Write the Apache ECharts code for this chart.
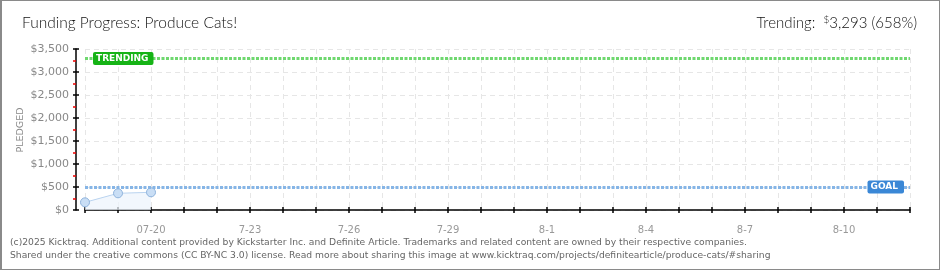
<!DOCTYPE html>
<html><head><meta charset="utf-8">
<script src="https://cdn.jsdelivr.net/npm/echarts@6/dist/echarts.min.js"></script>
<style>
html,body{margin:0;padding:0;background:#fff;}
#wrap{position:relative;width:940px;height:270px;}
#chart{position:absolute;left:0;top:0;width:940px;height:270px;}
#frame{position:absolute;left:0;top:0;width:937px;height:268px;border:1px solid #8a8a8a;border-left:2px solid #8a8a8a;pointer-events:none;}
</style></head>
<body><div id="wrap"><div id="chart"></div><div id="frame"></div></div>
<script>
const categories = ['07-18','07-19','07-20','7-21','7-22','7-23','7-24','7-25','7-26','7-27','7-28','7-29','7-30','7-31','8-1','8-2','8-3','8-4','8-5','8-6','8-7','8-8','8-9','8-10','8-11','8-12'];
const pledged = [167, 363, 385];
const goalValue = 500;
const trendingValue = 3293;
const yMax = 3500;
const yInterval = 500;

const chart = echarts.init(document.getElementById('chart'));
const axisFont = 'DejaVu Sans';
chart.setOption({
  animation: false,
  title: [
    {text: 'Funding Progress: Produce Cats!', left: 17, top: 10,
     textStyle: {fontFamily: 'Lato', fontWeight: 300, fontSize: 15.5, color: '#111'}},
    {text: '{a|Trending:  }{s|$}{b|3,293 (658%)}', right: 18, top: 10,
     textStyle: {rich: {
       a: {fontFamily: 'Lato', fontWeight: 300, fontSize: 15, color: '#111'},
       s: {fontFamily: 'Lato', fontWeight: 300, fontSize: 10, color: '#111', verticalAlign: 'top', padding: [0,0,6,0]},
       b: {fontFamily: 'Lato', fontWeight: 300, fontSize: 15, color: '#111'}
     }}}
  ],
  graphic: [
    {type: 'text', x: 21, y: 130, rotation: Math.PI / 2,
     style: {text: 'PLEDGED', font: '9.5px "DejaVu Sans"', fill: '#888', align: 'center', verticalAlign: 'middle'}},
    {type: 'text', left: 10, top: 238, style: {text: '(c)2025 Kicktraq. Additional content provided by Kickstarter Inc. and Definite Article. Trademarks and related content are owned by their respective companies.', font: '9.2px "DejaVu Sans"', fill: '#666'}},
    {type: 'text', left: 10, top: 251, style: {text: 'Shared under the creative commons (CC BY-NC 3.0) license. Read more about sharing this image at www.kicktraq.com/projects/definitearticle/produce-cats/#sharing', font: '9.2px "DejaVu Sans"', fill: '#666'}}
  ],
  grid: {left: 85, right: 30, top: 49, bottom: 60},
  xAxis: [
    {type: 'category', data: categories, boundaryGap: false, offset: 10,
     axisLine: {lineStyle: {color: '#000', width: 1.5}},
     axisTick: {show: true, interval: 0, length: 3, lineStyle: {color: '#000', width: 1.5}},
     axisLabel: {interval: (i) => i % 3 === 2, color: '#999', fontFamily: axisFont, fontSize: 10, margin: 5},
     splitLine: {show: true, interval: 0, lineStyle: {color: '#e6e6e6', type: [5,4]}}},
    {type: 'category', data: categories, boundaryGap: false, offset: 10, position: 'bottom',
     axisLine: {show: false},
     axisTick: {show: true, inside: true, interval: 0, length: 3, lineStyle: {color: '#000', width: 1.5}},
     axisLabel: {show: false}, splitLine: {show: false}}
  ],
  yAxis: [
    {type: 'value', min: 0, max: yMax, interval: yInterval, offset: 9,
     axisLine: {show: true, lineStyle: {color: '#000', width: 1.5}},
     axisTick: {show: true, length: 3, lineStyle: {color: '#000', width: 1.5}},
     minorTick: {show: true, splitNumber: 2, length: 3, lineStyle: {color: '#e00', width: 1.5}},
     axisLabel: {color: '#888', fontFamily: axisFont, fontSize: 11, margin: 7,
       formatter: (v) => '$' + v.toLocaleString('en-US')},
     splitLine: {show: true, lineStyle: {color: '#e6e6e6', type: [5,4]}}},
    {type: 'value', min: 0, max: yMax, interval: yInterval, offset: 9, position: 'left',
     axisLine: {show: false},
     axisTick: {show: true, inside: true, length: 3, lineStyle: {color: '#000', width: 1.5}},
     axisLabel: {show: false}, splitLine: {show: false}}
  ],
  series: [{
    type: 'line', data: pledged, xAxisIndex: 0, yAxisIndex: 0,
    symbol: 'circle', symbolSize: 9,
    itemStyle: {color: '#c9def5', borderColor: '#8fb3dc', borderWidth: 1},
    lineStyle: {color: '#b9d3ef', width: 1},
    areaStyle: {color: '#edf4fc'},
    markLine: {
      silent: true, symbol: ['none','none'],
      data: [
        {yAxis: goalValue,
         lineStyle: {color: '#86b5e6', width: 3, type: [3,1.5]},
         label: {show: true, formatter: 'GOAL', position: 'insideEnd', distance: 6,
           color: '#fff', backgroundColor: '#3a87d6', padding: [2,6,2,3], borderRadius: 2,
           fontFamily: axisFont, fontSize: 9, fontWeight: 'bold', letterSpacing: 0.5}},
        {yAxis: trendingValue,
         lineStyle: {color: '#6fd86f', width: 3, type: [3,1.5]},
         label: {show: true, formatter: 'TRENDING', position: 'insideStart', distance: 8,
           color: '#fff', backgroundColor: '#16b316', padding: [2,5,2,3], borderRadius: 2,
           fontFamily: axisFont, fontSize: 9, fontWeight: 'bold', letterSpacing: 0}}
      ]
    }
  }]
});
</script></body></html>
